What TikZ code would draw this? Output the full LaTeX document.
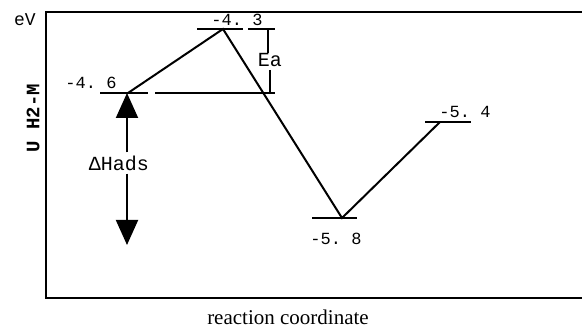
\documentclass[tikz,border=0pt]{standalone}
\usepackage{fontspec}
\setmainfont{Liberation Serif}
\newfontfamily\monof{Liberation Mono}
\usetikzlibrary{arrows.meta}
\begin{document}
\begin{tikzpicture}[x=1pt,y=-1pt,
  frame/.style={line width=1.6pt},
  level/.style={line width=1.7pt},
  path/.style={line width=2pt},
  num/.style={font=\monof\fontsize{17}{17}\selectfont, inner sep=0pt},
  lab/.style={font=\monof\fontsize{20}{20}\selectfont, inner sep=0pt},
  bigarrow/.style={line width=1.9pt, -{Triangle[length=25pt,width=22pt]}}]
\useasboundingbox (0,0) rectangle (582,328);
% frame (open on the right)
\coordinate (tr) at (583,12);
\coordinate (tl) at (46,12);
\coordinate (bl) at (46,298);
\coordinate (br) at (583,298);
\draw[frame] (tr) -- (tl) -- (bl) -- (br);
% states
\coordinate (ads) at (128,93);
\coordinate (ts) at (223,29);
\coordinate (mn) at (342,218);
\coordinate (fin) at (440,122);
% level bars
\draw[level] (100,93) coordinate (a1) -- (148,93) coordinate (a2);
\draw[level] (155,93) coordinate (r1) -- (275,93) coordinate (r2);
\draw[level] (197,29) coordinate (t1) -- (243,29) coordinate (t2);
\draw[level] (248,29) coordinate (e1) -- (275,29) coordinate (e2);
\draw[level] (312,218) coordinate (m1) -- (357,218) coordinate (m2);
\draw[level] (425,122) coordinate (f1) -- (471,122) coordinate (f2);
% reaction path
\draw[path] (ads) -- (ts) -- (mn) -- (fin);
% labels
\node[num] (l43) at (237,20) {-4.~3};
\node[num] (l46) at (91,83) {-4.~6};
\node[num] (l58) at (336,239) {-5.~8};
\node[num] (l54) at (465,112) {-5.~4};
\node[font=\monof\fontsize{18}{18}\selectfont, inner sep=0pt] (ev) at (25,20) {eV};
% Ea
\node[lab] (ea) at (270,60) {Ea};
\coordinate (eaT) at (268,29);
\coordinate (eaB) at (270,93);
\draw[line width=1.6pt] (eaT) -- (eaT |- ea.north) ++(0,-2);
\draw[line width=1.6pt] (ea.south -| eaB) ++(0,3) -- (eaB);
% Delta H ads
\node[lab] (dh) at (119,163) {ΔHads};
\coordinate (up) at (127,93);
\coordinate (dn) at (127,245);
\draw[bigarrow] (dh.north -| up) ++(0,-3) -- (up);
\draw[bigarrow] (dh.south -| dn) ++(0,3) -- (dn);
% axes labels
\node[font=\monof\bfseries\fontsize{19}{19}\selectfont, rotate=90, inner sep=0pt] (ylab) at (33,118) {U H2-M};
\node[font=\fontsize{21}{21}\selectfont, inner sep=0pt] (xlab) at (288,317) {reaction coordinate};
\end{tikzpicture}
\end{document}
